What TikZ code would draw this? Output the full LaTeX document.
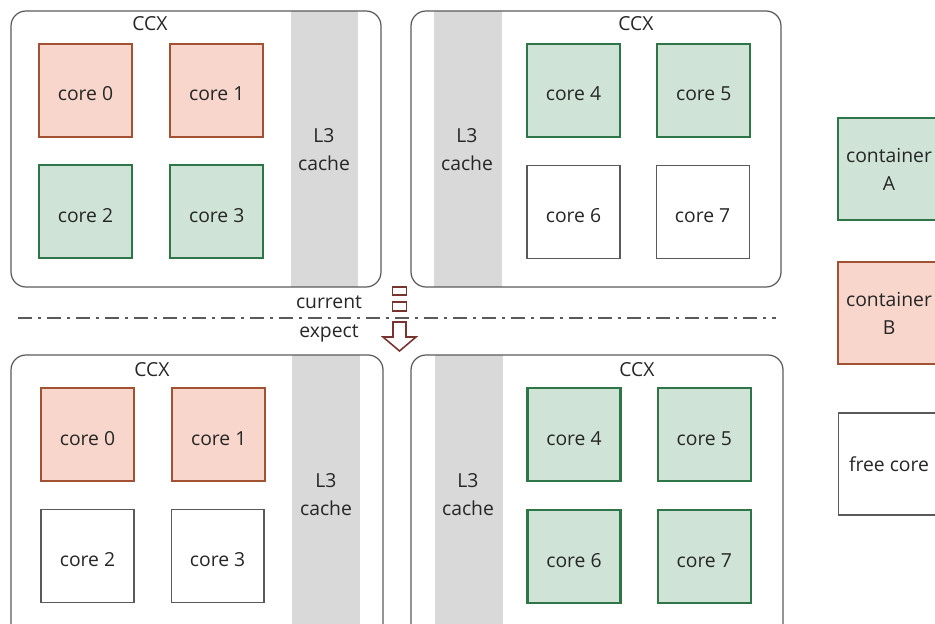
\documentclass[tikz,border=0pt]{standalone}
\usepackage{fontspec}
\setmainfont{Open Sans}
\usetikzlibrary{positioning}
\definecolor{greenfill}{RGB}{207,228,214}
\definecolor{greenline}{RGB}{46,117,72}
\definecolor{redfill}{RGB}{248,214,204}
\definecolor{redline}{RGB}{160,82,50}
\definecolor{cachegray}{RGB}{217,217,217}
\definecolor{boxline}{RGB}{90,90,90}
\definecolor{txtgray}{RGB}{38,38,38}
\definecolor{arrowred}{RGB}{120,52,46}

\begin{document}
\begin{tikzpicture}[x=0.02cm,y=-0.02cm,font=\fontsize{11}{16}\selectfont,text=txtgray,
	core/.style={draw,line width=1.3pt,minimum size=1.86cm,inner sep=0pt,align=center,
		text height=0.42cm,text depth=0pt},
	coreA/.style={core,draw=greenline,fill=greenfill},
	coreB/.style={core,draw=redline,fill=redfill},
	corefree/.style={core,draw=boxline,line width=0.6pt,fill=white},
	legend/.style={minimum size=2.04cm,text height=,text depth=},
	ccx/.style={draw=boxline,line width=0.7pt,rounded corners=0.3cm},
	cache/.style={fill=cachegray},
	lbl/.style={align=center}]
	\useasboundingbox (0,0) rectangle (935,624);
	
	% current: left CCX
	\fill[cache] (291,11) rectangle (358,287);
	\draw[ccx] (11,11) rectangle (381,287);
	\node (ccx1) at (150,24) {CCX};
	\node[lbl] (lthree1) at (324,150) {L3\\cache};
	\node[coreB] (c0) at (85.5,90.5) {core 0};
	\node[coreB] (c1) [right=0.72cm of c0] {core 1};
	\node[coreA] (c2) [below=0.52cm of c0] {core 2};
	\node[coreA] (c3) [right=0.72cm of c2] {core 3};
	
	% current: right CCX
	\fill[cache] (434,11) rectangle (502,287);
	\draw[ccx] (411,11) rectangle (781,287);
	\node (ccx2) at (636,24) {CCX};
	\node[lbl] (lthree2) at (467,150) {L3\\cache};
	\node[coreA] (c4) at (573.5,90.5) {core 4};
	\node[coreA] (c5) [right=0.7cm of c4] {core 5};
	\node[corefree] (c6) [below=0.54cm of c4] {core 6};
	\node[corefree] (c7) [right=0.7cm of c6] {core 7};
	
	% separator
	\coordinate (sepL) at (18,318);
	\coordinate (sepR) at (776,318);
	\draw[boxline,line width=0.6pt,dash pattern=on 0.28cm off 0.12cm on 0.06cm off 0.12cm] (sepL) -- (sepR);
	\node (cur) at (329,302) {current};
	\node (exp) at (329,333) {expect};
	\draw[arrowred,line width=0.9pt,fill=white] (392.5,287) rectangle (406.5,295);
	\draw[arrowred,line width=0.9pt,fill=white] (392.5,302) rectangle (406.5,311);
	\draw[arrowred,line width=0.9pt,fill=white] (393,322) -- (406,322) -- (406,337) -- (416,337)
		-- (399.5,351) -- (383,337) -- (393,337) -- cycle;
	
	% expect: left CCX
	\fill[cache] (292,355) rectangle (360,640);
	\draw[ccx] (11,355) rectangle (383,640);
	\node (ccx3) at (152,370) {CCX};
	\node[lbl] (lthree3) at (326,495) {L3\\cache};
	\node[coreB] (d0) at (87.5,434.5) {core 0};
	\node[coreB] (d1) [right=0.72cm of d0] {core 1};
	\node[corefree] (d2) [below=0.54cm of d0] {core 2};
	\node[corefree] (d3) [right=0.72cm of d2] {core 3};
	
	% expect: right CCX
	\fill[cache] (435,355) rectangle (503,640);
	\draw[ccx] (411,355) rectangle (783,640);
	\node (ccx4) at (637,370) {CCX};
	\node[lbl] (lthree4) at (468,495) {L3\\cache};
	\node[coreA] (d4) at (574,434.5) {core 4};
	\node[coreA] (d5) [right=0.7cm of d4] {core 5};
	\node[coreA] (d6) [below=0.54cm of d4] {core 6};
	\node[coreA] (d7) [right=0.7cm of d6] {core 7};
	
	% legend
	\node[coreA,legend] (keyA) at (889,169) {container\\A};
	\node[coreB,legend] (keyB) at (889,313) {container\\B};
	\node[corefree,legend] (keyfree) at (889,464) {free core};
\end{tikzpicture}
\end{document}
